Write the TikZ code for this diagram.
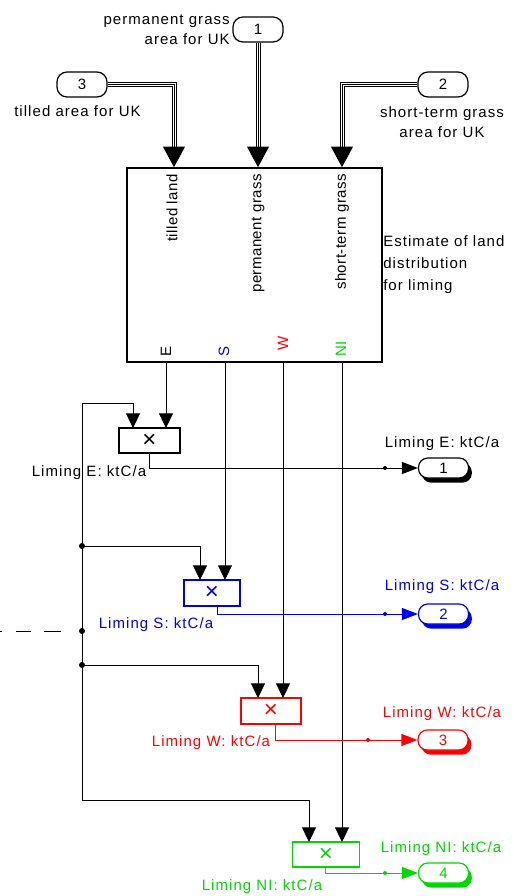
\documentclass[tikz,border=0pt]{standalone}
\usepackage{fontspec}
\setmainfont{Liberation Sans}
\newfontfamily\hfont[LetterSpace=7]{Liberation Sans}
\newfontfamily\vfont[LetterSpace=3]{Liberation Sans}
\newcommand\hf{\hfont\fontsize{11.25pt}{15pt}\selectfont}
\newcommand\vf{\vfont\fontsize{11.25pt}{15pt}\selectfont}
\usetikzlibrary{arrows.meta,shadows}
\definecolor{sblue}{RGB}{0,0,230}
\definecolor{sred}{RGB}{255,0,0}
\definecolor{sgreen}{RGB}{0,215,0}
\newcommand\triline[1]{%
  \draw[line width=3.75pt] #1;
  \draw[white,line width=2.25pt] #1;
  \draw[line width=0.75pt] #1;}
\begin{document}
\begin{tikzpicture}[x=0.75pt,y=-0.75pt,
  wire/.style={line width=0.75pt},
  arr/.style={-{Triangle[length=11pt,width=10.5pt]}},
  oarr/.style={-{Triangle[length=12pt,width=9pt]}},
  varr/.style={-{Triangle[length=15.5pt,width=16.5pt]}},
  lbl/.style={inner sep=0pt,font=\hf},
  vlbl/.style={inner sep=0pt,font=\vf,rotate=90},
  inport/.style={draw,line width=0.9pt,rounded corners=7.5pt,minimum width=37.5pt,
    minimum height=18.75pt,inner sep=0pt,fill=white,font=\hf},
  outport/.style={draw=#1,text=#1,line width=0.9pt,rounded corners=7pt,minimum width=37.5pt,
    minimum height=15pt,inner sep=0pt,fill=white,font=\hf,
    drop shadow={shadow xshift=2.5pt,shadow yshift=-3.5pt,fill=#1,opacity=1}},
  prod/.style={draw=#1,text=#1,line width=1pt,inner sep=0pt,minimum height=18.75pt,
    font=\fontsize{18pt}{18pt}\selectfont},
  jdot/.style={circle,fill,inner sep=0pt,minimum size=4.5pt},
  sdot/.style={circle,fill,inner sep=0pt,minimum size=3pt}
]
\useasboundingbox (0,0) rectangle (514,896);

% ---------- inports ----------
\node[inport] (in1) at (258,29.5) {1};
\node[inport] (in3) at (82,84.5) {3};
\node[inport] (in2) at (443,84.5) {2};
\node[lbl,align=right,anchor=east] (lin1) at (230,30) {permanent grass\\area for UK};
\node[lbl,anchor=west] (lin3) at (14,111) {tilled area for UK};
\node[lbl,align=center] (lin2) at (442,122) {short-term grass\\area for UK};

% ---------- main block ----------
\node[draw,line width=1.2pt,minimum width=191.25pt,minimum height=145.5pt,inner sep=0pt] (blk) at (254.5,265) {};
\node[lbl,align=left,anchor=west,font=\hfont\fontsize{11.25pt}{16.5pt}\selectfont] (lblk) at (383,265)
  {Estimate of land\\distribution\\for liming};
\node[vlbl,anchor=east] (tl) at (172,174) {tilled land};
\node[vlbl,anchor=east] (pg) at (258,174) {permanent grass};
\node[vlbl,anchor=east] (sg) at (342,174) {short-term grass};
\node[vlbl,anchor=west] (oE) at (166,357) {E};
\node[vlbl,anchor=west,text=sblue] (oS) at (224,357) {S};
\node[vlbl,anchor=west,text=sred] (oW) at (283,351) {W};
\node[vlbl,anchor=west,text=sgreen] (oN) at (341,357) {NI};

% ---------- vector inputs ----------
\coordinate (vT) at (174,147);
\coordinate (vP) at (258,147);
\coordinate (vS) at (342,147);
\coordinate (vT2) at (174,152);
\coordinate (vP2) at (258,152);
\coordinate (vS2) at (342,152);
\triline{(in3.east) -| (vT2)}
\triline{(in1.south) -- (vP2)}
\triline{(in2.west) -| (vS2)}
\draw[wire,varr] (vT) -- (blk.north -| vT);
\draw[wire,varr] (vP) -- (blk.north -| vP);
\draw[wire,varr] (vS) -- (blk.north -| vS);

% ---------- product blocks ----------
\node[prod=black,minimum width=45.75pt] (pE) at (149.5,440.5) {×};
\node[prod=sblue,minimum width=42pt,minimum height=19.5pt] (pS) at (212,593) {×};
\node[prod=sred,minimum width=45pt,minimum height=19.5pt] (pW) at (271,711) {×};
\node[prod=sgreen,minimum width=50.25pt] (pN) at (326,854.5) {×};

\coordinate (pEa) at (133,428);  \coordinate (pEb) at (166,428);
\coordinate (pSa) at (200,580);  \coordinate (pSb) at (225,580);  \coordinate (pSo) at (217,606);
\coordinate (pWa) at (258,698);  \coordinate (pWb) at (283,698);  \coordinate (pWo) at (275,724);
\coordinate (pNa) at (309,842);  \coordinate (pNb) at (342,842);  \coordinate (pNo) at (325,867);

% ---------- outports ----------
\node[outport=black] (out1) at (443.5,468) {1};
\node[outport=sblue] (out2) at (443.5,614) {2};
\node[outport=sred] (out3) at (443,740) {3};
\node[outport=sgreen] (out4) at (443.5,873) {4};

\node[lbl] (l1a) at (442,444) {Liming E: ktC/a};
\node[lbl,text=sblue] (l2a) at (442,587) {Liming S: ktC/a};
\node[lbl,text=sred] (l3a) at (442,714) {Liming W: ktC/a};
\node[lbl,text=sgreen] (l4a) at (441,849) {Liming NI: ktC/a};
\node[lbl] (l1b) at (89,473) {Liming E: ktC/a};
\node[lbl,text=sblue] (l2b) at (156,625) {Liming S: ktC/a};
\node[lbl,text=sred] (l3b) at (211,743) {Liming W: ktC/a};
\node[lbl,text=sgreen] (l4b) at (262,887) {Liming NI: ktC/a};

% ---------- bus on the left ----------
\coordinate (jD) at (82,631);
\coordinate (jS) at (82,546);
\coordinate (jW) at (82,665);
\coordinate (bTop) at (82,403);
\coordinate (bBot) at (82,800);
\coordinate (dL) at (0,631);

\draw[wire,dash pattern=on 1.5pt off 10.5pt on 11.25pt off 9.75pt on 12.75pt off 100pt] (dL) -- (jD);
\draw[wire,arr] (jD) -- (bTop) -| (pEa);
\draw[wire,arr] (jD) -- (bBot) -| (pNa);
\draw[wire,arr] (jS) -| (pSa);
\draw[wire,arr] (jW) -| (pWa);
\node[jdot] (dS) at (jS) {};
\node[jdot] (dD) at (jD) {};
\node[jdot] (dW) at (jW) {};

% ---------- block outputs to products ----------
\draw[wire,arr] (blk.south -| pEb) -- (pEb);
\draw[wire,arr] (blk.south -| pSb) -- (pSb);
\draw[wire,arr] (blk.south -| pWb) -- (pWb);
\draw[wire,arr] (blk.south -| pNb) -- (pNb);

% ---------- product outputs ----------
\draw[wire,oarr] (pE.south) |- (out1.west);
\draw[wire,oarr,sblue] (pSo) |- (out2.west);
\draw[wire,oarr,sred] (pWo) |- (out3.west);
\draw[wire,oarr,sgreen] (pNo) |- (out4.west);
\node[sdot] (s1) at (385,468) {};
\node[sdot,sblue] (s2) at (385,614) {};
\node[sdot,sred] (s3) at (368,740) {};
\node[sdot,sgreen] (s4) at (385,873) {};
\end{tikzpicture}
\end{document}
